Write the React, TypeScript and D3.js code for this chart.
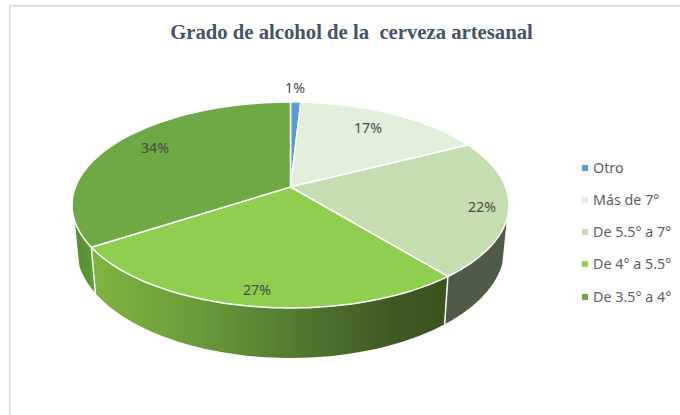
import React from "react";
import * as d3 from "d3";

const title = "Grado de alcohol de la  cerveza artesanal";
const categories = ["Otro", "Más de 7°", "De 5.5° a 7°", "De 4° a 5.5°", "De 3.5° a 4°"];
const values = [0.9, 16.6, 21.6, 26.7, 34.2];
const colors = ["#5b9bd5", "#e2efda", "#c5deb1", "#8fce4f", "#6fa946"];
const labelX = [295, 368, 482, 257, 155];
const labelY = [88, 128, 207, 290, 148];
const legendY = [168, 200, 232, 264, 297];

const W = 680, H = 415, CX = 290.5, K = 0.1748;
const project = (R: number, a: number, b: number) => (t: number): [number, number] => {
  const u = Math.sin(t), v = -Math.cos(t), d = 1 - K * v;
  return [CX + (R * u) / d, a + (b * v) / d];
};
const topRim = project(215.1, 187, 99.85);
const lowRim = project(210.7, 228.8, 106.6);
const line = d3.line();
const arcPts = (f: (t: number) => [number, number], t0: number, t1: number) =>
  d3.range(0, 61).map((i) => f(t0 + ((t1 - t0) * i) / 60));
const wall = (t0: number, t1: number) =>
  line([...arcPts(topRim, t0, t1), ...arcPts(lowRim, t1, t0)]) + "Z";

const slices = d3.pie<number>().sort(null)(values);
const deg = (d: number) => (d * Math.PI) / 180;

const rEnd = deg(108);
const mEnd = slices[3].endAngle;
const cut22 = slices[2].endAngle;
const lEnd = deg(251);

export default function App() {
  const pL = topRim(mEnd), pLb = lowRim(mEnd), pR = topRim(cut22), pRb = lowRim(cut22);
  return (
    <svg width={W} height={H} style={{ position: "fixed", left: 0, top: 0, background: "#fff" }}>
      <defs>
        <linearGradient id="g27" gradientUnits="userSpaceOnUse" x1={96} x2={443} y1={0} y2={0}>
          <stop offset="0" stopColor="#80b340" />
          <stop offset="0.3" stopColor="#6a9a3a" />
          <stop offset="0.6" stopColor="#527530" />
          <stop offset="0.85" stopColor="#3e5a22" />
          <stop offset="1" stopColor="#3a5320" />
        </linearGradient>
        <linearGradient id="g34" gradientUnits="userSpaceOnUse" x1={73} x2={96} y1={0} y2={0}>
          <stop offset="0" stopColor="#558c35" />
          <stop offset="1" stopColor="#5f9a3a" />
        </linearGradient>
      </defs>
      <path d={`M9.75 415V5.75H680`} fill="none" stroke="#d9d9d9" strokeWidth={1.5} />
      <text x={351.5} y={39} textAnchor="middle" style={{ whiteSpace: "pre" }}
        fontFamily="'Liberation Serif'" fontWeight="bold" fontSize={20.7} fill="#44546a">{title}</text>

      <path d={wall(mEnd, lEnd)} fill="url(#g34)" />
      <path d={wall(cut22, mEnd)} fill="url(#g27)" />
      <path d={wall(rEnd, cut22)} fill="#4f5a47" />
      <path d={line([pL, pLb])!} stroke="#fff" strokeWidth={1.5} fill="none" />
      <path d={line([pR, pRb])!} stroke="#fff" strokeWidth={1.5} fill="none" />

      {slices.map((s, i) => (
        <path key={i}
          d={line([[CX, 187], ...arcPts(topRim, s.startAngle, s.endAngle)] as [number, number][]) + "Z"}
          fill={colors[i]} stroke="#fff" strokeWidth={1.5} strokeLinejoin="round" />
      ))}

      {slices.map((s, i) => (
        <text key={i} x={labelX[i]} y={labelY[i]} dy="0.35em" textAnchor="middle"
          fontFamily="'Noto Sans'" fontSize={14.2} fill="#4a4a4a">{Math.round(s.value)}%</text>
      ))}

      {categories.map((c, i) => (
        <g key={c}>
          <rect x={582} y={legendY[i] - 3} width={6} height={6} fill={colors[i]} />
          <text x={593} y={legendY[i]} dy="0.35em" fontFamily="'Noto Sans'" fontSize={14.3} fill="#5f5f5f">{c}</text>
        </g>
      ))}
    </svg>
  );
}
